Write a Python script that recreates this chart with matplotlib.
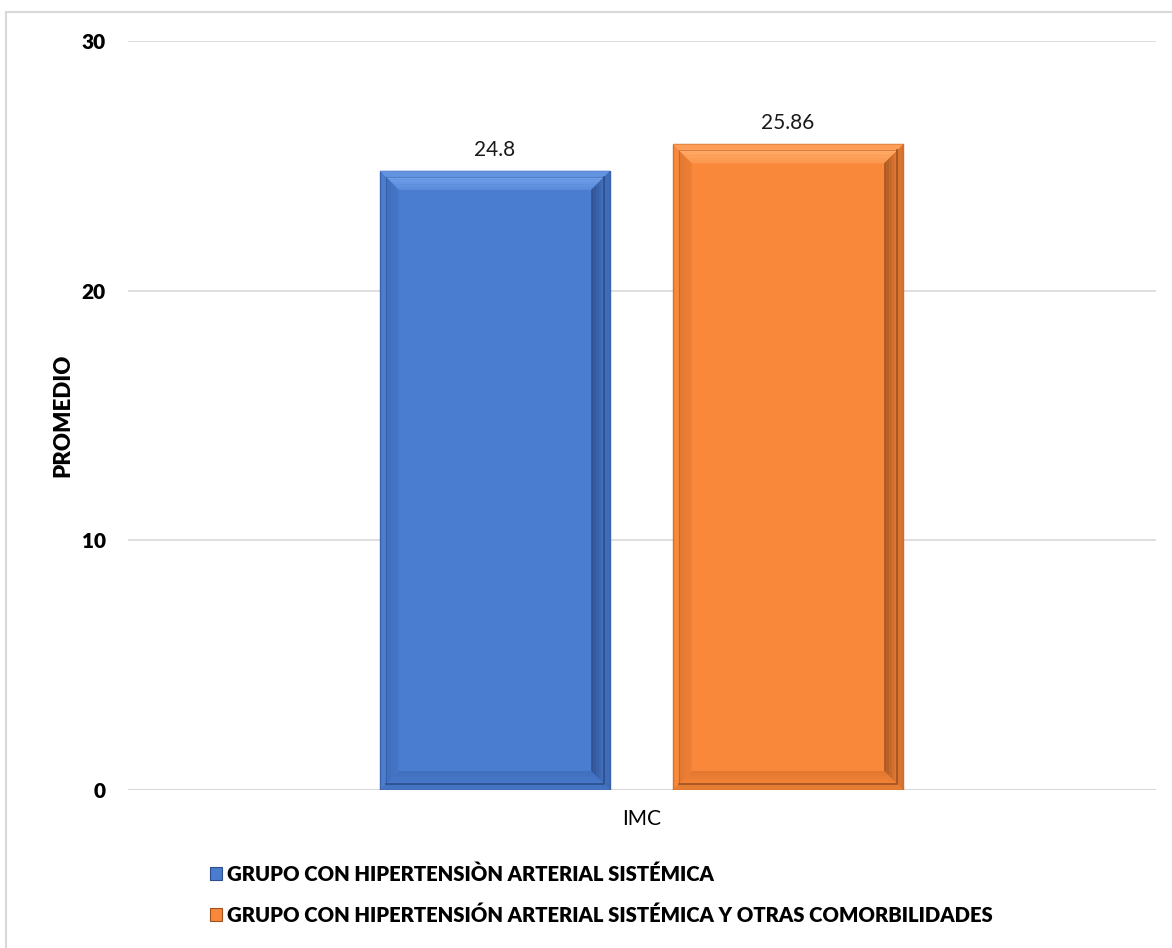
import numpy as np
import matplotlib
matplotlib.use('Agg')
import matplotlib.pyplot as plt
from matplotlib.patches import Polygon, Rectangle

# datos
categorias = ['IMC']
series = ['GRUPO CON HIPERTENSIÒN ARTERIAL SISTÉMICA',
          'GRUPO CON HIPERTENSIÓN ARTERIAL SISTÉMICA Y OTRAS COMORBILIDADES']
valores = [24.8, 25.86]
etiquetas = ['24.8', '25.86']
yticks = [0, 10, 20, 30]

# colores: base, claro (arriba), oscuro (derecha/abajo), medio (izquierda)
colores = [
    dict(base='#4a7dd0', claro='#6f9eea', oscuro='#2d4d8a', medio='#3f6bb8', borde='#3a64ad'),
    dict(base='#f9883a', claro='#ffaa66', oscuro='#9e5220', medio='#dc742e', borde='#d46f2c'),
]

plt.rcParams['font.family'] = ['Lato', 'DejaVu Sans']

fig = plt.figure(figsize=(11.72, 9.48), dpi=100)
ax = fig.add_axes([128 / 1172, 1 - 790 / 948, 1028 / 1172, 749 / 948])

ax.set_xlim(-0.5, 0.5)
ax.set_ylim(0, 30)

ANCHO = 0.224
OFFSETS = [-0.143, 0.142]
# tamaños del bisel en pixeles -> unidades de datos
px_x = 1 / 1028
px_y = 30 / 749


def trapecios(x0, x1, y0, y1, ix0, ix1, iy0, iy1):
    arriba = [(x0, y1), (x1, y1), (ix1, iy1), (ix0, iy1)]
    izq = [(x0, y0), (x0, y1), (ix0, iy1), (ix0, iy0)]
    der = [(x1, y1), (x1, y0), (ix1, iy0), (ix1, iy1)]
    abajo = [(x0, y0), (x1, y0), (ix1, iy0), (ix0, iy0)]
    return arriba, izq, der, abajo


def barra_bisel(ax, xc, h, c):
    x0, x1 = xc - ANCHO / 2, xc + ANCHO / 2
    y0, y1 = 0, h
    ax.add_patch(Rectangle((x0, y0), x1 - x0, y1 - y0, facecolor=c['base'],
                           edgecolor=c['borde'], linewidth=1.0, zorder=3))
    # anillo exterior
    e = 6
    ox0, ox1 = x0 + e * px_x, x1 - e * px_x
    oy0, oy1 = y0 + e * px_y, y1 - e * px_y
    arriba, izq, der, abajo = trapecios(x0, x1, y0, y1, ox0, ox1, oy0, oy1)
    ax.add_patch(Polygon(arriba, facecolor=c['claro'], edgecolor='none', zorder=4, alpha=0.7))
    ax.add_patch(Polygon(der, facecolor=c['oscuro'], edgecolor='none', zorder=4, alpha=0.35))
    ax.add_patch(Polygon(abajo, facecolor=c['oscuro'], edgecolor='none', zorder=4, alpha=0.2))
    # bisel interior, en bandas para simular el degradado
    b = 13
    pasos = 5
    for k in range(pasos):
        a = k * b / pasos
        a2 = (k + 1) * b / pasos
        px0, px1 = ox0 + a * px_x, ox1 - a * px_x
        py0, py1 = oy0 + a * px_y, oy1 - a * px_y
        qx0, qx1 = ox0 + a2 * px_x, ox1 - a2 * px_x
        qy0, qy1 = oy0 + a2 * px_y, oy1 - a2 * px_y
        f = 1 - k / pasos
        arriba, izq, der, abajo = trapecios(px0, px1, py0, py1, qx0, qx1, qy0, qy1)
        ax.add_patch(Polygon(arriba, facecolor=c['claro'], edgecolor='none', zorder=5, alpha=0.4 + 0.6 * f))
        ax.add_patch(Polygon(izq, facecolor=c['medio'], edgecolor='none', zorder=5, alpha=0.3 + 0.5 * f))
        ax.add_patch(Polygon(der, facecolor=c['oscuro'], edgecolor='none', zorder=5, alpha=0.3 + 0.7 * (1 - f)))
        ax.add_patch(Polygon(abajo, facecolor=c['medio'], edgecolor='none', zorder=5, alpha=0.3 + 0.6 * (1 - f)))
    # linea oscura en el borde del anillo
    ax.plot([ox0, ox1, ox1], [oy0, oy0, oy1], color=c['oscuro'], lw=1.2, zorder=6)
    ax.plot([ox0, ox0, ox1], [oy0, oy1, oy1], color=c['oscuro'], lw=0.6, alpha=0.5, zorder=6)


for off, v, lab, c in zip(OFFSETS, valores, etiquetas, colores):
    barra_bisel(ax, off, v, c)
    ax.text(off, v + 0.45, lab, ha='center', va='bottom', fontsize=15, color='#1a1a1a')

# ejes y grilla
for s in ax.spines.values():
    s.set_visible(False)
ax.set_yticks(yticks)
ax.set_yticklabels([str(t) for t in yticks], fontsize=15, fontweight='heavy')
ax.tick_params(axis='y', length=0, pad=16)
ax.set_xticks([0])
ax.set_xticklabels(categorias, fontsize=15)
ax.tick_params(axis='x', length=0, pad=14)
ax.yaxis.grid(True, color='#d9d9d9', linewidth=1.2)
ax.set_axisbelow(True)
ax.axhline(0, color='#d9d9d9', linewidth=1.5, zorder=2)
ax.set_ylabel('PROMEDIO', fontsize=16, fontweight='heavy')
ax.yaxis.set_label_coords((73 - 128) / 1028, 0.5)

# leyenda
manejadores = [Rectangle((0, 0), 1, 1, facecolor=c['base'], edgecolor=c['oscuro'], linewidth=0.8)
               for c in colores]
leg = fig.legend(manejadores, series, loc='upper left', bbox_to_anchor=(192 / 1172, 1 - 846 / 948),
                 frameon=False, prop={'size': 14.6, 'weight': 'heavy'}, handlelength=0.6,
                 handleheight=0.6, handletextpad=0.25, labelspacing=1.05)

# marco exterior
fig.add_artist(Rectangle((6 / 1172, -0.01), 1.02, 1 - 12 / 948 + 0.01, transform=fig.transFigure,
                         facecolor='none', edgecolor='#d9d9d9', linewidth=1.5))

fig.savefig('out.png', dpi=100)
